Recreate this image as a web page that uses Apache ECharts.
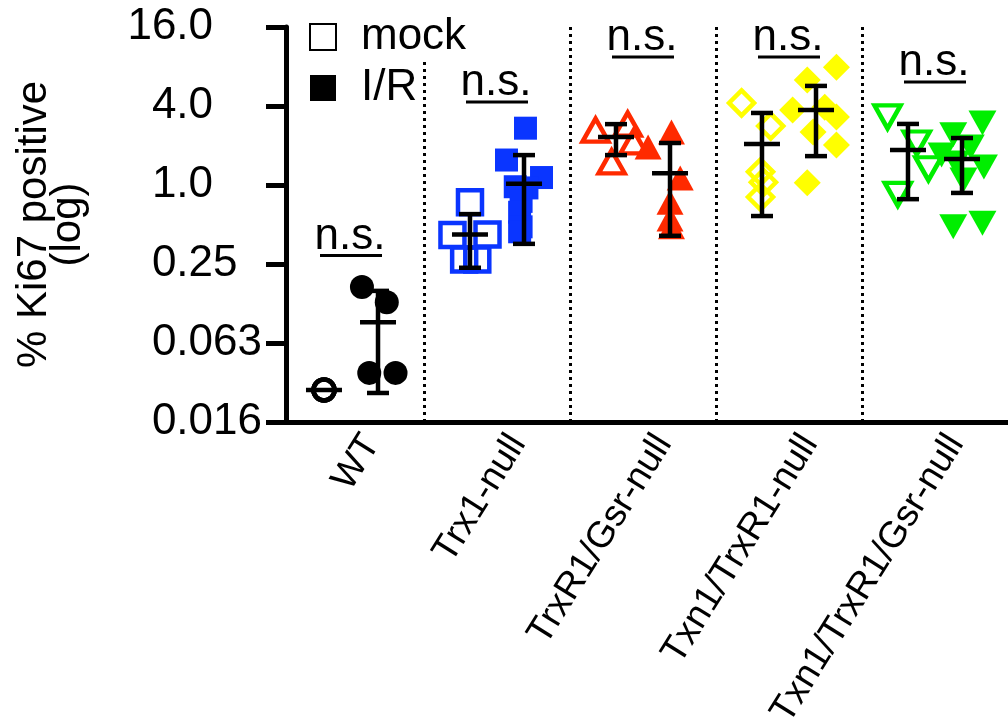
<!DOCTYPE html>
<html><head><meta charset="utf-8">
<script src="https://cdn.jsdelivr.net/npm/echarts@6/dist/echarts.min.js"></script>
<style>html,body{margin:0;padding:0;background:#fff}#c{width:1008px;height:720px}</style>
</head><body><div id="c"></div>
<script>
// ---- data ----
const groups = ['WT', 'Trx1-null', 'TrxR1/Gsr-null', 'Txn1/TrxR1-null', 'Txn1/TrxR1/Gsr-null'];
const legendNames = ['mock', 'I/R'];
const yTickLabels = ['0.016', '0.063', '0.25', '1.0', '4.0', '16.0'];
const yTickExps = [-6, -4, -2, 0, 2, 4];

// individual values (% Ki67 positive)
const mockWT = [0.0274, 0.0274, 0.0274];
const mockTrx1 = [0.74, 0.415, 0.42, 0.27, 0.27];
const mockTrxR1Gsr = [2.62, 2.91, 2.13, 1.50];
const mockTxn1TrxR1 = [4.22, 2.81, 1.26, 1.05, 0.81];
const mockTxn1TrxR1Gsr = [3.30, 2.09, 1.33, 0.85];

const irWT = [0.167, 0.128, 0.037, 0.037];
const irTrx1 = [2.71, 1.55, 1.14, 0.97, 0.95, 0.75, 0.62, 0.48, 0.44];
const irTrxR1Gsr = [2.54, 1.95, 1.13, 0.74, 0.55, 0.48];
const irTxn1TrxR1 = [7.9, 6.3, 3.73, 3.92, 3.30, 2.54, 2.02, 1.04];
const irTxn1TrxR1Gsr = [2.97, 2.41, 1.95, 1.69, 1.47, 1.37, 1.09, 0.48, 0.51];

// horizontal scatter of the points (fraction of a category width)
const mockJitWT = [0, 0, 0];
const mockJitTrx1 = [0, -0.12, 0.12, -0.04, 0.05];
const mockJitTrxR1Gsr = [-0.14, 0.08, 0.12, -0.03];
const mockJitTxn1TrxR1 = [-0.14, 0.06, -0.01, 0.01, -0.01];
const mockJitTxn1TrxR1Gsr = [-0.14, 0.06, 0.14, -0.07];
const irJitWT = [-0.11, 0.06, -0.06, 0.12];
const irJitTrx1 = [0.01, -0.12, 0.12, -0.06, 0.02, -0.02, -0.03, -0.02, -0.03];
const irJitTrxR1Gsr = [0.01, -0.15, 0.07, 0, 0, 0.01];
const irJitTxn1TrxR1 = [0.14, -0.06, -0.16, 0.06, 0.14, -0.02, 0.14, -0.06];
const irJitTxn1TrxR1Gsr = [0.14, -0.06, 0.06, -0.14, -0.04, 0.15, 0.01, -0.06, 0.14];

// mean and mean ± SD as drawn
const mockMean = [0.0274, 0.42, 2.32, 2.05, 1.85];
const mockLow = [0.0274, 0.234, 1.69, 0.58, 0.78];
const mockHigh = [0.0274, 0.60, 2.91, 3.54, 2.92];
const irMean = [0.090, 1.02, 1.23, 3.73, 1.58];
const irLow = [0.026, 0.356, 0.41, 1.66, 0.87];
const irHigh = [0.156, 1.69, 2.09, 5.69, 2.28];

// level of the "n.s." annotation line
const nsLabel = 'n.s.';
const nsLevel = [0.29, 4.29, 9.45, 9.45, 6.1];

// ---- styling ----
const FONT = '"Liberation Sans", Arial, sans-serif';
const colors = ['#000000', '#0a35ff', '#ff2a00', '#ffff00', '#00ee00'];
const symbols = ['circle', 'rect', 'triangle', 'diamond', 'triangle'];
const symRot = [0, 0, 0, 0, 180];
const openSize = [[21, 21], [24, 24], [26, 23], [25, 25], [26, 23]];
const fillSize = [[24, 24], [23, 23], [27, 25], [27, 27], [28, 25]];
const SUB = 0.185;

const mockVals = [mockWT, mockTrx1, mockTrxR1Gsr, mockTxn1TrxR1, mockTxn1TrxR1Gsr];
const irVals = [irWT, irTrx1, irTrxR1Gsr, irTxn1TrxR1, irTxn1TrxR1Gsr];
const mockJit = [mockJitWT, mockJitTrx1, mockJitTrxR1Gsr, mockJitTxn1TrxR1, mockJitTxn1TrxR1Gsr];
const irJit = [irJitWT, irJitTrx1, irJitTrxR1Gsr, irJitTxn1TrxR1, irJitTxn1TrxR1Gsr];

const series = [];
// legend-only series
series.push({ name: 'mock', type: 'scatter', data: [], itemStyle: { color: '#fff', borderColor: '#000', borderWidth: 4, opacity: 1 } });
series.push({ name: 'I/R', type: 'scatter', data: [], itemStyle: { color: '#000', opacity: 1 } });

groups.forEach((g, gi) => {
  series.push({
    name: g + ' mock', type: 'scatter', xAxisIndex: 0, yAxisIndex: 0, silent: true, z: 2,
    symbol: symbols[gi], symbolRotate: symRot[gi], symbolSize: openSize[gi],
    itemStyle: { color: 'rgba(255,255,255,0)', borderColor: colors[gi], borderWidth: 4.5, opacity: 1 },
    data: mockVals[gi].map((v, i) => [gi + 0.5 - SUB + mockJit[gi][i], v])
  });
  series.push({
    name: g + ' I/R', type: 'scatter', xAxisIndex: 0, yAxisIndex: 0, silent: true, z: 2,
    symbol: symbols[gi], symbolRotate: symRot[gi], symbolSize: fillSize[gi],
    itemStyle: { color: colors[gi], opacity: 1 },
    data: irVals[gi].map((v, i) => [gi + 0.5 + SUB + irJit[gi][i], v])
  });
});

const errData = [];
groups.forEach((g, gi) => {
  errData.push([gi + 0.5 - SUB, mockMean[gi], mockLow[gi], mockHigh[gi]]);
  errData.push([gi + 0.5 + SUB, irMean[gi], irLow[gi], irHigh[gi]]);
});

series.push({
  name: 'mean ± SD', type: 'custom', xAxisIndex: 0, yAxisIndex: 0, z: 5, silent: true, clip: false,
  data: errData,
  renderItem: function (params, api) {
    const x = api.value(0);
    const pm = api.coord([x, api.value(1)]);
    const pl = api.coord([x, api.value(2)]);
    const ph = api.coord([x, api.value(3)]);
    const st = { stroke: '#000', lineWidth: 4.5, fill: null };
    const ch = [];
    if (Math.abs(pl[1] - ph[1]) > 1) {
      ch.push({ type: 'line', shape: { x1: pm[0], y1: pl[1], x2: pm[0], y2: ph[1] }, style: st });
      ch.push({ type: 'line', shape: { x1: pm[0] - 11, y1: pl[1], x2: pm[0] + 11, y2: pl[1] }, style: st });
      ch.push({ type: 'line', shape: { x1: pm[0] - 11, y1: ph[1], x2: pm[0] + 11, y2: ph[1] }, style: st });
    }
    ch.push({ type: 'line', shape: { x1: pm[0] - 18, y1: pm[1], x2: pm[0] + 18, y2: pm[1] }, style: st });
    return { type: 'group', children: ch };
  }
});

series.push({
  name: 'n.s.', type: 'custom', xAxisIndex: 0, yAxisIndex: 0, z: 6, silent: true, clip: false,
  data: nsLevel.map((v, gi) => [gi + 0.5, v]),
  renderItem: function (params, api) {
    const p = api.coord([api.value(0), api.value(1)]);
    return {
      type: 'group', children: [
        { type: 'line', shape: { x1: p[0] - 31, y1: p[1], x2: p[0] + 31, y2: p[1] }, style: { stroke: '#000', lineWidth: 3 } },
        { type: 'text', x: p[0] - 1, y: p[1] + 3, style: { text: nsLabel, fill: '#000', font: '44px ' + FONT, align: 'center', verticalAlign: 'bottom' } }
      ]
    };
  }
});

const option = {
  animation: false,
  backgroundColor: '#fff',
  textStyle: { fontFamily: FONT, color: '#000' },
  grid: { left: 278, right: 0, top: 27, bottom: 298, containLabel: false, outerBoundsMode: 'none' },
  legend: {
    data: legendNames, orient: 'vertical', left: 304, top: 10, icon: 'rect',
    itemWidth: 26, itemHeight: 26, itemGap: 7, selectedMode: false, z: 10,
    textStyle: { fontSize: 44, color: '#000', fontFamily: FONT, padding: [0, 0, 0, 20], backgroundColor: '#fff' }
  },
  xAxis: [
    {
      type: 'value', min: 0, max: 5, interval: 1,
      axisLine: { show: true, onZero: false, lineStyle: { color: '#000', width: 5 } },
      axisTick: { show: false }, axisLabel: { show: false },
      splitLine: { show: true, showMinLine: false, showMaxLine: false, lineStyle: { color: '#000', width: 3, type: [3, 4] } }
    },
    {
      type: 'category', data: groups, position: 'bottom', offset: 0,
      axisLine: { show: false }, axisTick: { show: false }, splitLine: { show: false },
      axisLabel: { interval: 0, rotate: 58, fontSize: 37, color: '#000', margin: 3, verticalAlign: 'top', padding: [6, 0, 0, 0], fontFamily: FONT }
    }
  ],
  yAxis: {
    type: 'log', logBase: 2, min: 1 / 64, max: 16, interval: 2, splitNumber: 5, offset: -8,
    axisLine: { show: true, lineStyle: { color: '#000', width: 5 } },
    axisTick: { show: true, length: 20, lineStyle: { color: '#000', width: 5 } },
    splitLine: { show: false },
    axisLabel: {
      fontSize: 44, color: '#000', margin: 24, fontFamily: FONT,
      formatter: function (v) {
        const e = Math.round(Math.log2(v));
        const idx = yTickExps.indexOf(e);
        if (idx < 0) return '';
        const lab = yTickLabels[idx];
        const dec = lab.split('.')[1].length;
        const pad = 3 - dec;
        return pad > 0 ? lab + '{p|' + '0'.repeat(pad) + '}' : lab;
      },
      rich: { p: { fontSize: 44, color: 'rgba(0,0,0,0)', fontFamily: FONT } }
    },
    name: '% Ki67 positive\n(log)', nameLocation: 'middle', nameRotate: 90, nameGap: 201,
    nameTextStyle: { fontSize: 42, lineHeight: 34, color: '#000', fontFamily: FONT }
  },
  series: series
};

const chart = echarts.init(document.getElementById('c'), null, { renderer: 'canvas' });
chart.setOption(option);
</script>
</body></html>
